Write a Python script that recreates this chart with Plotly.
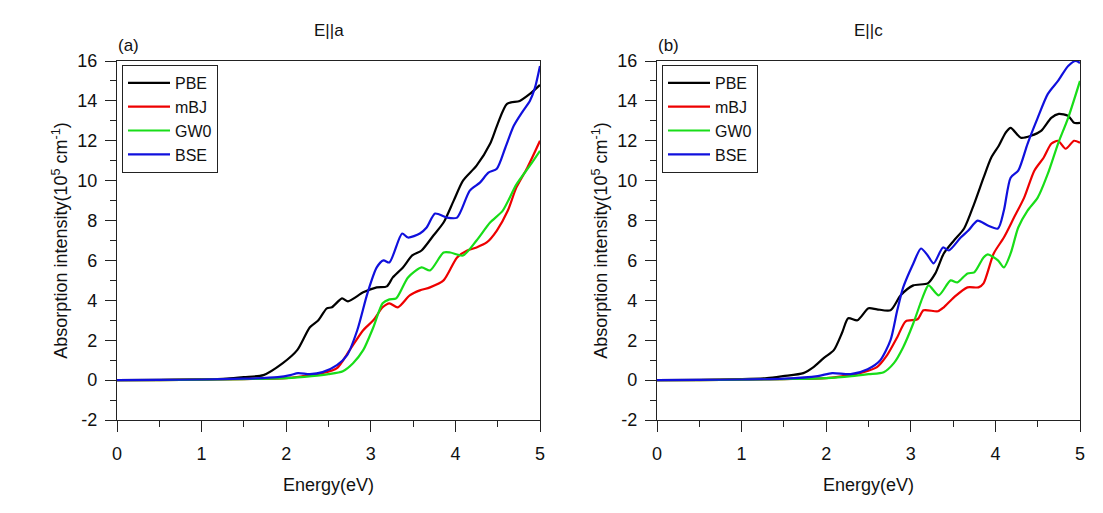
import plotly.graph_objects as go

# ---------------- data (Energy in eV, absorption in 1e5 cm^-1) ----------------
series_names = ["PBE", "mBJ", "GW0", "BSE"]
series_colors = ["#000000", "#ee0000", "#18dd18", "#1010dd"]

# Panel (a): E||a
a_pbe_x = [0, 0.5, 1.0, 1.3, 1.5, 1.73, 1.96, 2.13, 2.28, 2.38, 2.48, 2.54, 2.66, 2.73, 2.91, 3.07, 3.19, 3.26, 3.38, 3.49, 3.6, 3.74, 3.86, 3.98, 4.09, 4.25, 4.41, 4.5, 4.61, 4.76, 4.88, 5.0]
a_pbe_y = [0, 0.01, 0.04, 0.08, 0.15, 0.25, 0.85, 1.5, 2.65, 3.0, 3.6, 3.65, 4.1, 3.95, 4.4, 4.65, 4.7, 5.15, 5.65, 6.25, 6.5, 7.25, 7.9, 9.0, 10.0, 10.75, 11.85, 12.85, 13.85, 14.0, 14.35, 14.8]

a_mbj_x = [0, 0.5, 1.0, 1.5, 2.0, 2.2, 2.43, 2.6, 2.75, 2.91, 3.03, 3.14, 3.22, 3.32, 3.46, 3.58, 3.7, 3.86, 4.02, 4.14, 4.25, 4.37, 4.49, 4.62, 4.72, 4.85, 5.0]
a_mbj_y = [0, 0.0, 0.02, 0.05, 0.1, 0.2, 0.35, 0.6, 1.5, 2.5, 3.0, 3.65, 3.85, 3.65, 4.25, 4.5, 4.65, 5.0, 6.15, 6.5, 6.65, 6.9, 7.5, 8.5, 9.65, 10.65, 12.0]

a_gw0_x = [0, 0.5, 1.0, 1.5, 2.0, 2.3, 2.5, 2.67, 2.79, 2.91, 3.03, 3.14, 3.22, 3.3, 3.44, 3.6, 3.7, 3.86, 3.94, 4.09, 4.25, 4.41, 4.56, 4.72, 4.88, 5.0]
a_gw0_y = [0, 0, 0.02, 0.05, 0.1, 0.2, 0.3, 0.45, 0.85, 1.5, 2.65, 3.85, 4.05, 4.1, 5.15, 5.65, 5.5, 6.4, 6.4, 6.25, 7.0, 7.9, 8.5, 9.8, 10.75, 11.5]

a_bse_x = [0, 0.5, 1.0, 1.5, 1.9, 2.05, 2.14, 2.28, 2.43, 2.6, 2.72, 2.84, 2.96, 3.07, 3.15, 3.22, 3.37, 3.44, 3.58, 3.66, 3.76, 3.9, 4.02, 4.17, 4.29, 4.39, 4.49, 4.59, 4.69, 4.8, 4.88, 4.94, 5.0]
a_bse_y = [0, 0.01, 0.03, 0.07, 0.15, 0.25, 0.35, 0.3, 0.4, 0.75, 1.25, 2.5, 4.35, 5.65, 6.0, 5.9, 7.35, 7.15, 7.35, 7.65, 8.35, 8.15, 8.15, 9.5, 9.9, 10.4, 10.6, 11.65, 12.75, 13.5, 14.0, 14.65, 15.75]

# Panel (b): E||c
c_pbe_x = [0, 0.5, 1.0, 1.3, 1.49, 1.73, 1.85, 1.97, 2.09, 2.19, 2.26, 2.37, 2.5, 2.6, 2.76, 2.88, 3.03, 3.2, 3.29, 3.39, 3.51, 3.63, 3.75, 3.86, 3.95, 4.04, 4.12, 4.18, 4.3, 4.42, 4.54, 4.66, 4.75, 4.86, 4.93, 5.0]
c_pbe_y = [0, 0.01, 0.05, 0.1, 0.2, 0.35, 0.65, 1.1, 1.5, 2.4, 3.1, 3.0, 3.6, 3.55, 3.5, 4.25, 4.75, 4.85, 5.35, 6.35, 7.0, 7.6, 8.85, 10.15, 11.15, 11.75, 12.4, 12.65, 12.15, 12.25, 12.5, 13.15, 13.35, 13.25, 12.9, 12.9]

c_mbj_x = [0, 0.5, 1.0, 1.5, 2.0, 2.2, 2.44, 2.6, 2.72, 2.84, 2.94, 3.08, 3.15, 3.32, 3.39, 3.51, 3.67, 3.8, 3.86, 3.98, 4.1, 4.22, 4.34, 4.46, 4.57, 4.66, 4.74, 4.83, 4.93, 5.0]
c_mbj_y = [0, 0, 0.02, 0.05, 0.1, 0.2, 0.4, 0.65, 1.25, 2.15, 2.95, 3.05, 3.5, 3.45, 3.65, 4.15, 4.65, 4.65, 4.85, 6.35, 7.15, 8.15, 9.15, 10.5, 11.15, 11.85, 12.0, 11.6, 12.0, 11.9]

c_gw0_x = [0, 0.5, 1.0, 1.5, 2.0, 2.3, 2.5, 2.68, 2.8, 2.91, 3.03, 3.14, 3.21, 3.33, 3.47, 3.55, 3.67, 3.75, 3.86, 3.91, 4.03, 4.1, 4.18, 4.27, 4.38, 4.5, 4.62, 4.74, 4.86, 5.0]
c_gw0_y = [0, 0, 0.02, 0.05, 0.1, 0.2, 0.3, 0.4, 0.85, 1.65, 2.85, 4.15, 4.75, 4.25, 5.0, 4.9, 5.35, 5.4, 6.15, 6.3, 6.0, 5.65, 6.35, 7.65, 8.5, 9.15, 10.35, 11.85, 13.15, 15.0]

c_bse_x = [0, 0.5, 1.0, 1.5, 1.9, 2.07, 2.29, 2.49, 2.64, 2.76, 2.84, 2.91, 3.03, 3.12, 3.2, 3.27, 3.38, 3.45, 3.59, 3.68, 3.79, 3.91, 4.03, 4.1, 4.18, 4.27, 4.38, 4.5, 4.62, 4.74, 4.86, 4.95, 5.0]
c_bse_y = [0, 0.01, 0.03, 0.07, 0.2, 0.35, 0.3, 0.55, 1.0, 2.0, 3.5, 4.65, 5.85, 6.6, 6.25, 5.85, 6.65, 6.5, 7.15, 7.5, 8.0, 7.75, 7.6, 8.5, 10.15, 10.5, 11.85, 13.15, 14.35, 15.0, 15.75, 16.0, 15.9]

x_ticks = [0, 1, 2, 3, 4, 5]
x_tick_labels = ["0", "1", "2", "3", "4", "5"]
y_ticks = [-2, 0, 2, 4, 6, 8, 10, 12, 14, 16]
y_tick_labels = ["-2", "0", "2", "4", "6", "8", "10", "12", "14", "16"]
panel_titles = ["E||a", "E||c"]
panel_labels = ["(a)", "(b)"]
y_title = "Absorption intensity(10<sup>5</sup> cm<sup>-1</sup>)"
x_title = "Energy(eV)"

panel_a = [(a_pbe_x, a_pbe_y), (a_mbj_x, a_mbj_y), (a_gw0_x, a_gw0_y), (a_bse_x, a_bse_y)]
panel_c = [(c_pbe_x, c_pbe_y), (c_mbj_x, c_mbj_y), (c_gw0_x, c_gw0_y), (c_bse_x, c_bse_y)]

# ---------------- figure ----------------
W, H = 1103, 513
ML, MR, MT, MB = 117, 23, 61, 93          # margins in px
PW, PH = W - ML - MR, H - MT - MB          # plot-area size
FONT = "Arial, Liberation Sans, sans-serif"
FS = 18

def fx(px):   # pixel x -> paper x
    return (px - ML) / PW

def fy(py):   # pixel y -> paper y
    return (H - MB - py) / PH

fig = go.Figure()

for k, panel in enumerate([panel_a, panel_c]):
    xa = "x" if k == 0 else "x2"
    ya = "y" if k == 0 else "y2"
    lg = "legend" if k == 0 else "legend2"
    for (xs, ys), name, col in zip(panel, series_names, series_colors):
        fig.add_trace(go.Scatter(
            x=xs, y=ys, name=name, mode="lines",
            line=dict(color=col, width=2.2, shape="spline", smoothing=0.7),
            xaxis=xa, yaxis=ya, legend=lg, showlegend=True,
        ))

px_left = [(117, 540), (657, 1080)]

common_x = dict(
    range=[0, 5], tickvals=x_ticks, ticktext=x_tick_labels, ticks="outside", ticklen=11, tickwidth=1.3,
    tickcolor="#222", showline=True, linecolor="#222", linewidth=1.3, mirror=True,
    showgrid=False, zeroline=False, automargin=False,
    minor=dict(dtick=0.5, tick0=0, ticks="outside", ticklen=6, tickwidth=1.3, tickcolor="#222"),
    tickfont=dict(family=FONT, size=FS, color="#111"),
    title=dict(text=x_title, font=dict(family=FONT, size=FS, color="#111"), standoff=15),
    ticklabelstandoff=6,
)
common_y = dict(
    range=[-2, 16], tickvals=y_ticks, ticktext=y_tick_labels, ticks="outside", ticklen=11, tickwidth=1.3,
    tickcolor="#222", showline=True, linecolor="#222", linewidth=1.3, mirror=True,
    showgrid=False, zeroline=False, automargin=False,
    minor=dict(dtick=1, tick0=0, ticks="outside", ticklen=6, tickwidth=1.3, tickcolor="#222"),
    tickfont=dict(family=FONT, size=FS, color="#111"),
    title=dict(text=y_title, font=dict(family=FONT, size=FS, color="#111"), standoff=4),
    ticklabelstandoff=4,
)

fig.update_layout(
    width=W, height=H, autosize=False,
    margin=dict(l=ML, r=MR, t=MT, b=MB, autoexpand=False),
    paper_bgcolor="white", plot_bgcolor="white",
    font=dict(family=FONT, size=FS, color="#111"),
    xaxis=dict(domain=[fx(px_left[0][0]), fx(px_left[0][1])], anchor="y", **common_x),
    yaxis=dict(domain=[0, 1], anchor="x", **common_y),
    xaxis2=dict(domain=[fx(px_left[1][0]), fx(px_left[1][1])], anchor="y2", **common_x),
    yaxis2=dict(domain=[0, 1], anchor="x2", **common_y),
)

for i, lgname in enumerate(["legend", "legend2"]):
    fig.update_layout({lgname: dict(
        x=fx(px_left[i][0] + 5), y=fy(65), xanchor="left", yanchor="top",
        bgcolor="white", bordercolor="#222", borderwidth=1,
        font=dict(family=FONT, size=16, color="#111"),
        tracegroupgap=0, itemwidth=42,
    )})

for i in range(2):
    cx = (px_left[i][0] + px_left[i][1]) / 2
    fig.add_annotation(text=panel_titles[i], x=fx(cx), y=fy(31), xref="paper", yref="paper",
                       showarrow=False, xanchor="center", yanchor="middle",
                       font=dict(family=FONT, size=FS - 1, color="#111"))
    fig.add_annotation(text=panel_labels[i], x=fx(px_left[i][0] - 1), y=fy(46),
                       xref="paper", yref="paper", showarrow=False, xanchor="left", yanchor="middle",
                       font=dict(family=FONT, size=FS - 1, color="#111"))

fig.write_html("out.html")
